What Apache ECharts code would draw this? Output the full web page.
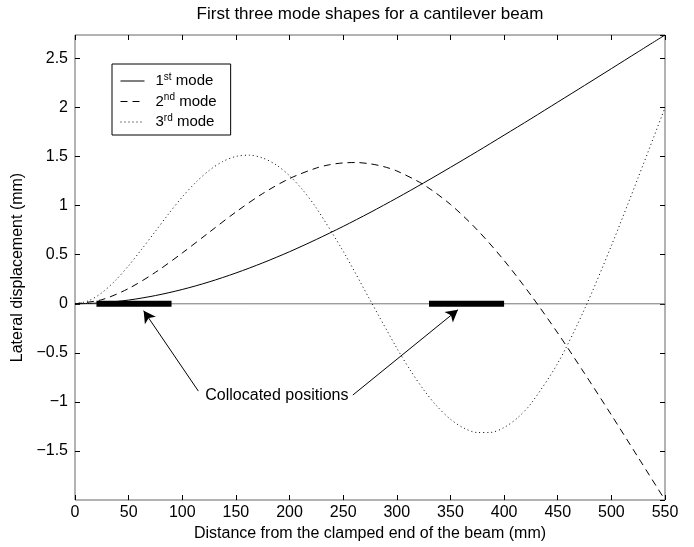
<!DOCTYPE html>
<html><head><meta charset="utf-8">
<script src="https://cdn.jsdelivr.net/npm/echarts@6/dist/echarts.min.js"></script>
<style>html,body{margin:0;padding:0;background:#fff}#c{width:694px;height:547px}</style>
</head><body><div id="c"></div>
<script>
// Distance along the beam (mm) and lateral displacement (mm) for each mode
const xs1 = [0,25,50,75,100,125,150,175,200,225,250,275,300,325,350,375,400,425,450,475,500,525,550];
const mode1 = [0,0.010,0.038,0.084,0.146,0.223,0.314,0.417,0.531,0.656,0.789,0.930,1.078,1.232,1.391,1.553,1.719,1.886,2.056,2.226,2.397,2.569,2.740];
const xs2 = [0,25,50,75,100,125,150,175,200,225,237.5,250,262.5,275,287.5,300,325,350,375,400,425,450,475,500,525,550];
const mode2 = [0,0.042,0.156,0.321,0.518,0.728,0.936,1.124,1.277,1.384,1.418,1.436,1.440,1.427,1.399,1.354,1.214,1.013,0.753,0.442,0.088,-0.298,-0.710,-1.133,-1.566,-2.000];
const xs3 = [0,12.5,25,37.5,50,62.5,75,87.5,100,112.5,125,137.5,150,162.5,175,187.5,200,212.5,225,250,275,300,312.5,325,337.5,350,362.5,375,387.5,400,412.5,425,450,475,500,525,550];
const mode3 = [0,0.030,0.112,0.236,0.389,0.561,0.740,0.920,1.089,1.237,1.359,1.449,1.502,1.515,1.486,1.416,1.305,1.157,0.976,0.536,0.040,-0.452,-0.676,-0.876,-1.045,-1.177,-1.267,-1.312,-1.311,-1.261,-1.163,-1.019,-0.606,-0.054,0.592,1.287,2.000];
const seriesNames = ['1st mode','2nd mode','3rd mode'];
// Collocated sensor/actuator positions (mm)
const collocated = [[20,90],[330,400]];
// Annotation
const annotationText = 'Collocated positions';
const annotationAt = [121,-0.94];
const arrowTails = [[115,-0.89],[259,-0.93]];
const arrowTips = [[64,-0.07],[357,-0.06]];
// Axis ranges [min, max, interval]
const xRange = [0,550,50];
const yRange = [-2,2.74,0.5];

const FONT = '"Liberation Sans", Arial, Helvetica, sans-serif';
const chart = echarts.init(document.getElementById('c'), null, {renderer:'canvas'});
const minus = v => String(v).replace('-', '\u2212');
const tick = {show:true, inside:true, length:5, lineStyle:{color:'#000', width:1}};
const mkX = (pos, labels, extra) => Object.assign({
  type:'value', position:pos, min:xRange[0], max:xRange[1], interval:xRange[2],
  axisLine:{show:false, onZero:false}, axisTick:tick, splitLine:{show:false},
  axisLabel:{show:labels, color:'#000', fontSize:16, fontFamily:FONT, margin:5}
}, extra||{});
const mkY = (pos, labels, extra) => Object.assign({
  type:'value', position:pos, min:yRange[0], max:yRange[1], interval:yRange[2],
  axisLine:{show:false, onZero:false}, axisTick:tick, splitLine:{show:false},
  axisLabel:{show:labels, color:'#000', fontSize:16, fontFamily:FONT, margin:7,
    showMinLabel:false, showMaxLabel:false, formatter:minus}
}, extra||{});

const styles = [{type:'solid'},{type:[7,5]},{type:[1,3]}];
const modes = [[xs1,mode1],[xs2,mode2],[xs3,mode3]];
const modeSeries = modes.map((m,i)=>({
  name: seriesNames[i], type:'line', data: m[0].map((x,j)=>[x, m[1][j]]),
  smooth:0.3, showSymbol:false, symbol:'none', z:3,
  lineStyle:Object.assign({color:'#000', width:1}, styles[i]),
  itemStyle:{color:'#000'}
}));

const series = [
  {name:'zero', type:'line', data:[[xRange[0],0],[xRange[1],0]], symbol:'none', z:2,
   lineStyle:{color:'#777', width:1}, silent:true,
   markLine:{silent:true, symbol:['none','arrow'], symbolSize:[10,12],
     lineStyle:{color:'#000', width:1, type:'solid'}, label:{show:false},
     data: arrowTails.map((t,i)=>[{coord:t},{coord:arrowTips[i]}])},
   markPoint:{silent:true, symbol:'circle', symbolSize:1, itemStyle:{color:'rgba(0,0,0,0)'},
     label:{show:true, position:'right', distance:0, formatter:annotationText,
       color:'#000', fontSize:16, fontFamily:FONT},
     data:[{coord:annotationAt}]}
  },
  ...modeSeries,
  ...collocated.map((c)=>({name:'pos', type:'line', data:[[c[0],0],[c[1],0]], symbol:'none', z:5,
     lineStyle:{color:'#000', width:6, cap:'butt'}, silent:true}))
];

const option = {
  animation:false,
  backgroundColor:'#fff',
  textStyle:{fontFamily:FONT},
  title:{text:'First three mode shapes for a cantilever beam', left:370, top:6, padding:0,
    textAlign:'center', textStyle:{fontSize:17, fontWeight:'normal', color:'#000', fontFamily:FONT}},
  grid:{left:75, right:29, top:35, bottom:47, show:true, borderColor:'#666', borderWidth:1},
  legend:{data:seriesNames, orient:'vertical', left:112, top:64, padding:[8,14,4,8],
    itemWidth:24, itemHeight:14, itemGap:2.5, backgroundColor:'#fff',
    borderColor:'#000', borderWidth:1, selectedMode:false,
    itemStyle:{opacity:0, borderWidth:0},
    lineStyle:{width:1},
    formatter: n => n.replace(/^(\d)(st|nd|rd)/, '$1{sup|$2}'),
    textStyle:{color:'#000', fontSize:15, fontFamily:FONT, lineHeight:18, padding:[0,0,0,6],
      rich:{sup:{fontSize:10, verticalAlign:'top', fontFamily:FONT, color:'#000', lineHeight:18}}}
  },
  xAxis:[
    mkX('bottom', true, {name:'Distance from the clamped end of the beam (mm)', nameLocation:'middle', nameGap:21,
      nameTextStyle:{color:'#000', fontSize:16, fontFamily:FONT}}),
    mkX('top', false)
  ],
  yAxis:[
    mkY('left', true, {name:'Lateral displacement (mm)', nameLocation:'middle', nameGap:49,
      nameTextStyle:{color:'#000', fontSize:16, fontFamily:FONT}}),
    mkY('right', false)
  ],
  series: series
};
chart.setOption(option);
</script></body></html>
